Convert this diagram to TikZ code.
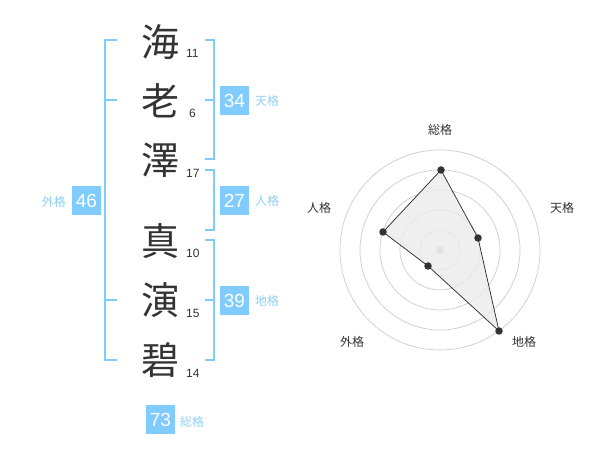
\documentclass[tikz,border=0pt]{standalone}
\usepackage{fontspec}
\setmainfont{Liberation Sans}
\newfontfamily\cjk{Noto Sans CJK JP}
\definecolor{brk}{HTML}{80CCFF}
\definecolor{lbl}{HTML}{8ED0F5}
\definecolor{ink}{HTML}{333333}
\definecolor{ring}{HTML}{CCCCCC}
\begin{document}
\begin{tikzpicture}[x=1pt,y=-1pt,
  kanji/.style={font=\cjk\fontsize{38}{38}\selectfont, text=ink, inner sep=0pt},
  strokes/.style={font=\fontsize{12}{12}\selectfont, text=ink, inner sep=0pt, anchor=west},
  scorebox/.style={fill=brk, text=white, font=\fontsize{19}{19}\selectfont, minimum width=29pt, minimum height=29pt, inner sep=0pt},
  scorelbl/.style={font=\cjk\fontsize{12}{12}\selectfont, text=lbl, inner sep=0pt},
  bracket/.style={draw=brk, line width=2pt},
  axislbl/.style={font=\cjk\fontsize{12}{12}\selectfont, text=ink, inner sep=0pt},
  ringline/.style={draw=ring, line width=0.7pt},
  dot/.style={circle, fill=ink, minimum size=7.5pt, inner sep=0pt}]
\useasboundingbox (0,0) rectangle (600,470);
% kanji
\node[kanji] (k1) at (160,42) {海};
\node[kanji] (k2) at (160,101) {老};
\node[kanji] (k3) at (160,160) {澤};
\node[kanji] (k4) at (160,241) {真};
\node[kanji] (k5) at (160,300) {演};
\node[kanji] (k6) at (160,360) {碧};
% stroke counts
\node[strokes] (n1) at (186,53) {11};
\node[strokes] (n2) at (189,113) {6};
\node[strokes] (n3) at (186,173) {17};
\node[strokes] (n4) at (186,253) {10};
\node[strokes] (n5) at (186,313) {15};
\node[strokes] (n6) at (186,373) {14};
% left bracket (gaikaku)
\coordinate (lt) at (117,40);
\coordinate (lm1) at (117,100);
\coordinate (lm2) at (117,300);
\coordinate (lb) at (117,360);
\draw[bracket] (lt) -- (105,40) -- (105,360) -- (lb);
\draw[bracket] (lm1) -- (105,100);
\draw[bracket] (lm2) -- (105,300);
% right brackets
\draw[bracket] (205,40) -- (214,40) -- (214,159) -- (205,159);
\draw[bracket] (205,100) -- (214,100);
\draw[bracket] (205,170) -- (214,170) -- (214,230) -- (205,230);
\draw[bracket] (205,240) -- (214,240) -- (214,360) -- (205,360);
\draw[bracket] (205,300) -- (214,300);
% score boxes
\node[scorebox] (s46) at (86.5,201) {46};
\node[scorelbl, anchor=east] (l46) at (66,202) {外格};
\node[scorebox] (s34) at (234.5,100.5) {34};
\node[scorelbl, anchor=west] (l34) at (255,101) {天格};
\node[scorebox] (s27) at (234.5,200.5) {27};
\node[scorelbl, anchor=west] (l27) at (255,201) {人格};
\node[scorebox] (s39) at (234.5,300.5) {39};
\node[scorelbl, anchor=west] (l39) at (255,301) {地格};
\node[scorebox] (s73) at (160.5,419.5) {73};
\node[scorelbl, anchor=west] (l73) at (180,422) {総格};
% radar
\coordinate (c) at (440,250);
\foreach \r in {20,40,60,80,100} \draw[ringline] (c) circle (\r);
\fill[ring] (c) circle (4);
\coordinate (p1) at (441,170);
\coordinate (p2) at (478,238);
\coordinate (p3) at (499,331);
\coordinate (p4) at (428,266);
\coordinate (p5) at (383,232);
\filldraw[fill=black!8, fill opacity=0.8, draw=black!85, line width=0.7pt] (p1) -- (p2) -- (p3) -- (p4) -- (p5) -- cycle;
\foreach \p in {p1,p2,p3,p4,p5} \node[dot] at (\p) {};
\node[axislbl] (a1) at (440,130) {総格};
\node[axislbl] (a2) at (562,208) {天格};
\node[axislbl] (a3) at (524,342) {地格};
\node[axislbl] (a4) at (352,342) {外格};
\node[axislbl] (a5) at (319,208) {人格};
\end{tikzpicture}
\end{document}
